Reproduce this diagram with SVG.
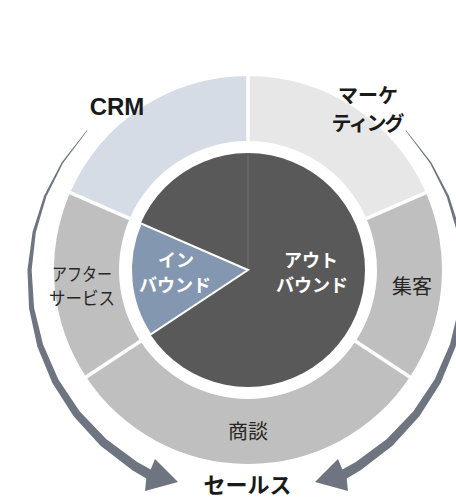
<svg xmlns="http://www.w3.org/2000/svg" xmlns:xlink="http://www.w3.org/1999/xlink" width="456" height="498" viewBox="0 0 456 498">
<style>
.t{font-family:"Noto Sans CJK JP","Noto Sans",sans-serif;fill:#262626;text-anchor:middle}
.b{font-weight:bold;fill:#1a1a1a}
.w{font-weight:bold;fill:#ffffff}
.sep{stroke:#ffffff;stroke-width:3.5}
.arrow{fill:#6e7480}
</style>
<defs>
<path id="arc" d="M87.06,130.09 L61.63,162.4 L44.1,195.79 L32.56,232.02 L27.46,270 L29.06,308.6 L37.41,346.64 L52.39,382.94 L73.61,416.34 L100.52,445.74 L132.4,470.23 L146.32,478.47 L145,491 L178,482 L155,459 L150.7,469.48 L137.2,461.92 L106.11,439.08 L79.59,411.33 L58.36,379.49 L43.05,344.59 L34.08,307.71 L31.65,270 L35.8,232.59 L46.34,196.61 L62.92,163.14 L87.44,130.42 Z"/>
</defs>
<rect width="456" height="498" fill="#ffffff"/>
<g id="crm"><path d="M248,76 A194,194 0 0 0 70.1,192.65 L129.7,218.57 A129,129 0 0 1 248,141 Z" fill="#d6dce5"/></g>
<g id="marketing"><path d="M248,76 A194,194 0 0 1 425.9,192.65 L366.3,218.57 A129,129 0 0 0 248,141 Z" fill="#e7e7e7"/></g>
<g id="shukyaku"><path d="M425.9,192.65 A194,194 0 0 1 409.8,377.07 L355.57,341.2 A129,129 0 0 0 366.3,218.57 Z" fill="#bfbfbf"/></g>
<g id="shodan"><path d="M409.8,377.07 A194,194 0 0 1 86.2,377.07 L140.43,341.2 A129,129 0 0 0 355.57,341.2 Z" fill="#bfbfbf"/></g>
<g id="afterservice"><path d="M86.2,377.07 A194,194 0 0 1 70.1,192.65 L129.7,218.57 A129,129 0 0 0 140.43,341.2 Z" fill="#bfbfbf"/></g>
<g id="separators">
<line class="sep" x1="248" y1="74" x2="248" y2="143"/>
<line class="sep" x1="427" y1="192.2" x2="365" y2="219.1"/>
<line class="sep" x1="69" y1="192.2" x2="131" y2="219.1"/>
<line class="sep" x1="411" y1="377.8" x2="354.5" y2="340.5"/>
<line class="sep" x1="85" y1="377.8" x2="141.5" y2="340.5"/>
</g>
<g id="outbound">
<circle cx="248" cy="270" r="117" fill="#595959"/>
<line x1="248" y1="153" x2="248" y2="270" stroke="#6e6e6e" stroke-width="1"/>
</g>
<g id="inbound"><path d="M248,270 L140.7,223.35 A117,117 0 0 0 150.43,334.57 Z" fill="#8497b0" stroke="#ffffff" stroke-width="2" stroke-linejoin="miter"/></g>
<g id="connectors">
<use xlink:href="#arc" class="arrow"/>
<use xlink:href="#arc" class="arrow" transform="translate(493,0) scale(-1,1)"/>
</g>
<g id="labels">
<text class="t b" x="117" y="115" style="font-family:'Liberation Sans',sans-serif" font-size="24">CRM</text>
<text class="t b" x="368" y="103" font-size="20">マーケ</text>
<text class="t b" x="367" y="131" font-size="20" letter-spacing="-2">ティング</text>
<text class="t" x="412" y="294" font-size="20">集客</text>
<text class="t" x="248" y="439" font-size="20">商談</text>
<text class="t" x="82" y="281" font-size="18" textLength="60" lengthAdjust="spacingAndGlyphs">アフター</text>
<text class="t" x="82" y="305" font-size="18" textLength="66" lengthAdjust="spacingAndGlyphs">サービス</text>
<text class="t w" x="176" y="267" font-size="18">イン</text>
<text class="t w" x="175" y="292" font-size="18">バウンド</text>
<text class="t w" x="311" y="267" font-size="18">アウト</text>
<text class="t w" x="312" y="292" font-size="18">バウンド</text>
<text class="t b" x="247.5" y="493" font-size="22">セールス</text>
</g>
</svg>
